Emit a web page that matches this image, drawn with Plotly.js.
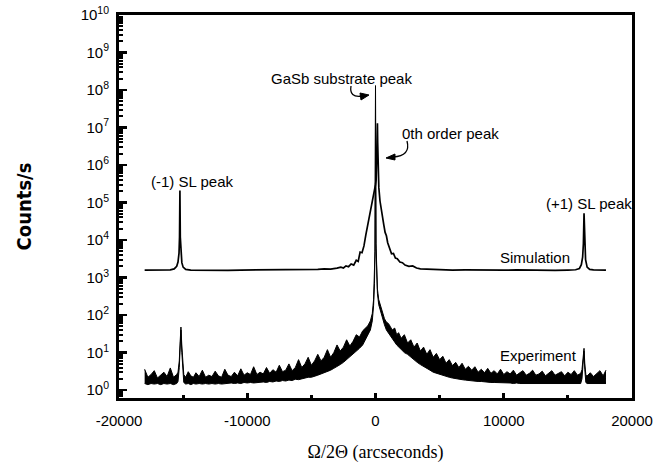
<!DOCTYPE html>
<html>
<head>
<meta charset="utf-8">
<script src="https://cdn.plot.ly/plotly-3.0.1.min.js"></script>
<style>html,body{margin:0;padding:0;background:#fff;}#chart{width:666px;height:468px;}</style>
</head>
<body>
<div id="chart"></div>
<script>
// ---- Data ----
var simX = [-18000,-17000,-16000,-15700,-15500,-15400,-15320,-15280,-15250,-15220,-15180,-15100,-15000,-14800,-14400,
  -13500,-12500,-11500,-10500,-9500,-8500,-7500,-6500,-5500,-4500,
  -4000,-3500,-3000,-2700,-2500,-2300,-2100,-1900,-1700,-1500,-1350,-1200,-1050,-900,-750,-600,-450,-300,-200,-100,-50,
  0,50,100,130,150,170,200,260,350,450,550,650,750,850,950,
  1100,1250,1400,1550,1700,1900,2100,2300,2600,2900,3200,3500,4000,
  5000,6000,7000,8000,9000,10000,11000,12000,13000,14000,15000,
  15600,15900,16050,16150,16210,16260,16310,16380,16500,16700,17000,17500,17970];
var simY = [1580,1570,1600,1700,2000,2600,4500,12000,210000,12000,4500,2500,1900,1650,1590,
  1570,1600,1560,1590,1600,1570,1620,1600,1630,1650,
  1700,1680,1780,1900,1800,2050,1950,2300,2150,2900,2700,4800,4600,7000,14000,25000,45000,80000,120000,180000,250000,
  300000,400000,1500000,4000000,13000000,4000000,1200000,250000,110000,60000,35000,25000,16000,13000,8500,
  5800,4300,4400,3300,3200,2600,2500,2150,2000,2050,1800,1700,1680,
  1620,1580,1600,1570,1590,1580,1600,1570,1580,1560,1590,
  1620,1750,2200,3500,8000,52000,8000,3000,1900,1650,1600,1580,1580];

// Experiment: noisy trace, read as its upper and lower edges
var expX = [-18000,-17750,-17500,-17250,-17000,-16750,-16500,-16250,-16000,-15750,-15500,
  -15400,-15300,-15230,-15170,-15100,-15030,-14950,-14800,
  -14600,-14400,-14200,-14000,-13750,-13500,-13250,-13000,-12750,-12500,-12250,-12000,
  -11750,-11500,-11250,-11000,-10750,-10500,-10250,-10000,-9750,-9500,-9250,-9000,
  -8750,-8500,-8250,-8000,-7750,-7500,-7250,-7000,-6750,-6500,-6250,-6000,
  -5750,-5500,-5250,-5000,-4750,-4500,-4250,-4000,-3750,-3500,-3250,-3000,
  -2750,-2500,-2250,-2000,-1750,-1500,-1250,-1000,-800,-600,-400,-250,-150,-80,-40,-15,
  0,15,40,80,150,250,400,550,700,850,1000,
  1150,1300,1500,1650,1800,2000,2250,2500,2750,3000,3250,3500,3750,4000,4250,4500,4750,5000,
  5250,5500,5750,6000,6250,6500,6750,7000,7250,7500,7750,8000,
  8250,8500,8750,9000,9250,9500,9750,10000,10250,10500,10750,11000,
  11250,11500,11750,12000,12250,12500,12750,13000,13250,13500,13750,14000,
  14250,14500,14750,15000,15250,15500,15750,16000,
  16100,16200,16260,16320,16400,16500,16750,17000,17250,17500,17750,17970];
var expHigh = [3.6,2.2,2.6,3.3,2.1,2.5,3.0,2.3,3.9,2.2,2.6,
  3.0,6,20,48,15,5,2.6,2.2,
  3.1,2.4,2.2,2.9,2.3,3.4,2.2,2.5,2.3,3.2,2.4,2.2,
  3.6,2.5,2.3,3.0,2.4,3.7,2.5,2.9,2.6,4.2,2.6,3.0,
  2.7,4.0,2.8,3.5,3.0,4.6,3.1,3.4,5.0,3.3,4.0,6.5,
  4.0,5.0,7.5,4.6,6.0,9.0,6.0,7.5,12,7.5,10,16,
  11,14,22,15,20,30,26,38,45,52,70,110,260,900,5000,1000000,
  130000000,1000000,8000,1500,500,260,170,110,80,65,60,
  50,40,45,30,34,24,30,18,22,14,18,11,14,9,12,7.5,9.5,6.5,
  8.0,5.2,6.5,4.5,5.5,4.0,5.2,3.6,4.3,3.4,4.2,3.0,
  3.6,2.9,3.8,2.8,3.3,2.7,3.6,2.6,3.1,2.7,3.4,2.5,
  2.9,3.3,2.5,2.8,3.4,2.5,2.7,3.2,2.4,2.9,3.3,2.5,
  2.8,3.1,2.4,3.0,2.6,3.3,2.5,2.8,
  3.5,7,13,5,2.6,2.4,2.9,2.3,2.7,3.3,2.4,3.4];
var expLow = [1.5,1.4,1.5,1.45,1.5,1.4,1.5,1.45,1.5,1.4,1.5,
  1.7,4,14,40,10,3.5,1.6,1.45,
  1.5,1.4,1.5,1.45,1.5,1.45,1.5,1.45,1.5,1.45,1.5,1.45,
  1.5,1.5,1.55,1.5,1.55,1.5,1.6,1.55,1.6,1.55,1.6,1.6,
  1.65,1.6,1.7,1.65,1.75,1.7,1.8,1.75,1.85,1.8,1.95,1.9,
  2.0,2.1,2.2,2.2,2.4,2.5,2.7,2.9,3.1,3.4,3.8,4.2,
  4.8,5.5,6.5,7.5,9,11,13,16,22,28,40,70,180,700,4000,1000000,
  130000000,1000000,6000,1100,380,190,120,75,55,40,33,
  28,24,19,16,14,12,10,9,7.5,6.5,5.5,4.8,4.2,3.8,3.4,3.0,2.8,2.6,
  2.5,2.3,2.2,2.1,2.0,1.95,1.9,1.85,1.8,1.75,1.75,1.7,
  1.7,1.65,1.65,1.6,1.6,1.6,1.55,1.55,1.55,1.55,1.5,1.55,
  1.5,1.5,1.5,1.55,1.5,1.5,1.5,1.5,1.5,1.5,1.5,1.5,
  1.5,1.5,1.5,1.5,1.5,1.5,1.5,1.5,
  2.0,5,11,3.5,1.6,1.5,1.5,1.5,1.5,1.5,1.5,1.5];

var xTickVals = [-20000,-10000,0,10000,20000];
var xTickText = ['-20000','-10000','0','10000','20000'];
var yTickVals = [1,10,100,1000,10000,100000,1000000,10000000,100000000,1000000000,10000000000];
var yTickText = ['10<sup>0</sup>','10<sup>1</sup>','10<sup>2</sup>','10<sup>3</sup>','10<sup>4</sup>','10<sup>5</sup>','10<sup>6</sup>','10<sup>7</sup>','10<sup>8</sup>','10<sup>9</sup>','10<sup>10</sup>'];

var labelText = ['(-1) SL peak','GaSb substrate peak','0th order peak','(+1) SL peak','Simulation','Experiment'];

// ---- Layout helpers (pixel -> paper) ----
var W = 666, H = 468, ML = 119, MR = 34, MT = 15, MB = 70;
var PW = W - ML - MR, PH = H - MT - MB;
function px(x){ return (x - ML) / PW; }
function py(y){ return (H - MB - y) / PH; }

var sans = 'Liberation Sans, Arial, Helvetica, sans-serif';

var labelPos = [[192,182],[341,78],[450,133],[589,203],[535,257],[538,355]];
var annotations = labelText.map(function(t,i){
  return {text:t, xref:'paper', yref:'paper', x:px(labelPos[i][0]), y:py(labelPos[i][1]),
          xanchor:'center', yanchor:'middle', showarrow:false,
          font:{family:sans, size:15, color:'#000'}};
});

function P(x,y){ return px(x).toFixed(5)+','+py(y).toFixed(5); }
var shapes = [
  {type:'path', xref:'paper', yref:'paper', path:'M'+P(351,86)+' Q'+P(349,98)+' '+P(362,96),
   line:{color:'#000', width:1.3}},
  {type:'path', xref:'paper', yref:'paper', path:'M'+P(360,93)+' L'+P(369,95)+' L'+P(361,100)+' Z',
   fillcolor:'#000', line:{color:'#000', width:1}},
  {type:'path', xref:'paper', yref:'paper', path:'M'+P(407,141)+' Q'+P(411,156)+' '+P(393,157),
   line:{color:'#000', width:1.3}},
  {type:'path', xref:'paper', yref:'paper', path:'M'+P(395,154)+' L'+P(386,158)+' L'+P(395,160)+' Z',
   fillcolor:'#000', line:{color:'#000', width:1}}
];

var traces = [
  {x:simX, y:simY, type:'scatter', mode:'lines', line:{color:'#000', width:1.7}, name:'Simulation', hoverinfo:'skip'},
  {x:expX, y:expLow, type:'scatter', mode:'lines', line:{color:'#000', width:1}, name:'Experiment (low)', hoverinfo:'skip'},
  {x:expX, y:expHigh, type:'scatter', mode:'lines', fill:'tonexty', fillcolor:'#000', line:{color:'#000', width:1}, name:'Experiment', hoverinfo:'skip'}
];

var layout = {
  width:W, height:H,
  margin:{l:ML, r:MR, t:MT, b:MB, pad:0},
  paper_bgcolor:'#fff', plot_bgcolor:'#fff',
  showlegend:false,
  font:{family:sans, size:15, color:'#000'},
  xaxis:{
    range:[-20000,20000], tickmode:'array', tickvals:xTickVals, ticktext:xTickText,
    ticks:'inside', ticklen:5, tickwidth:3, tickcolor:'#000',
    minor:{dtick:5000, ticks:'inside', ticklen:3, tickwidth:3, tickcolor:'#000', showgrid:false},
    showline:true, linewidth:3, linecolor:'#000', mirror:true,
    showgrid:false, zeroline:false, ticklabelstandoff:7,
    tickfont:{family:sans, size:15, color:'#000'},
    title:{text:'\u03A9/2\u0398 (arcseconds)', font:{family:'Liberation Serif, Times New Roman, serif', size:18, color:'#000'}, standoff:18}
  },
  yaxis:{
    type:'log', range:[-0.21,10], tickmode:'array', tickvals:yTickVals, ticktext:yTickText,
    ticks:'inside', ticklen:8, tickwidth:2.5, tickcolor:'#000',
    minor:{dtick:'D1', ticks:'inside', ticklen:4, tickwidth:2, tickcolor:'#000', showgrid:false},
    showline:true, linewidth:3, linecolor:'#000', mirror:true,
    showgrid:false, zeroline:false, ticklabelstandoff:4,
    tickfont:{family:sans, size:15, color:'#000'},
    title:{text:'<b>Counts/s</b>', font:{family:'DejaVu Sans Condensed, Liberation Sans Narrow, Arial Narrow, sans-serif', size:20, color:'#000'}, standoff:44}
  },
  annotations:annotations,
  shapes:shapes
};

Plotly.newPlot('chart', traces, layout, {staticPlot:true, displayModeBar:false});
</script>
</body>
</html>
